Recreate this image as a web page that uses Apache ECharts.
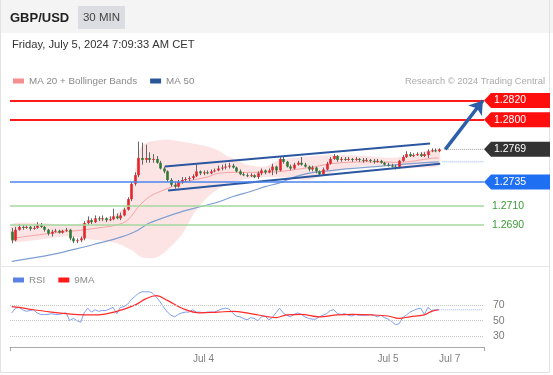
<!DOCTYPE html>
<html><head><meta charset="utf-8">
<script src="https://cdn.jsdelivr.net/npm/echarts/dist/echarts.min.js"></script>
<style>html,body{margin:0;padding:0;background:#fff;}#c{width:553px;height:375px;}</style>
</head><body><div id="c"></div>
<script>
const N = 131;
const open = [
1.2683,1.2674,1.2685,1.2688,1.2687,1.2688,1.2686,1.2687,1.2690,1.2688,
1.2685,1.2681,1.2683,1.2684,1.2682,1.2684,1.2685,1.2676,1.2673,1.2674,
1.2676,1.2692,1.2695,1.2693,1.2697,1.2696,1.2697,1.2695,1.2696,1.2699,
1.2697,1.2700,1.2706,1.2717,1.2733,1.2742,1.2760,1.2758,1.2760,1.2758,
1.2759,1.2755,1.2749,1.2746,1.2737,1.2732,1.2730,1.2735,1.2737,1.2738,
1.2739,1.2741,1.2746,1.2744,1.2745,1.2744,1.2746,1.2747,1.2749,1.2750,
1.2751,1.2752,1.2750,1.2746,1.2743,1.2742,1.2741,1.2742,1.2740,1.2744,
1.2747,1.2745,1.2747,1.2751,1.2747,1.2759,1.2756,1.2751,1.2749,1.2753,
1.2755,1.2753,1.2751,1.2748,1.2750,1.2746,1.2743,1.2748,1.2754,1.2759,
1.2762,1.2758,1.2759,1.2758,1.2759,1.2758,1.2759,1.2758,1.2757,1.2758,
1.2757,1.2756,1.2757,1.2755,1.2753,1.2752,1.2751,1.2750,1.2757,1.2761,
1.2764,1.2762,1.2763,1.2764,1.2762,1.2763,1.2767,1.2768,1.2767];
const high = [
1.2687,1.2688,1.2691,1.2690,1.2690,1.2689,1.2689,1.2693,1.2692,1.2689,
1.2686,1.2685,1.2686,1.2685,1.2685,1.2687,1.2686,1.2678,1.2676,1.2678,
1.2694,1.2699,1.2697,1.2700,1.2699,1.2700,1.2698,1.2699,1.2707,1.2702,
1.2703,1.2708,1.2719,1.2735,1.2745,1.2777,1.2776,1.2774,1.2766,1.2764,
1.2762,1.2757,1.2751,1.2747,1.2739,1.2735,1.2737,1.2740,1.2740,1.2741,
1.2743,1.2753,1.2747,1.2747,1.2747,1.2748,1.2749,1.2752,1.2753,1.2754,
1.2755,1.2754,1.2751,1.2748,1.2745,1.2744,1.2744,1.2743,1.2746,1.2749,
1.2748,1.2749,1.2754,1.2752,1.2762,1.2761,1.2757,1.2753,1.2755,1.2757,
1.2761,1.2755,1.2752,1.2752,1.2751,1.2747,1.2750,1.2756,1.2761,1.2764,
1.2763,1.2761,1.2761,1.2761,1.2760,1.2761,1.2760,1.2760,1.2760,1.2759,
1.2759,1.2759,1.2758,1.2756,1.2755,1.2754,1.2753,1.2758,1.2763,1.2767,
1.2766,1.2765,1.2766,1.2766,1.2766,1.2769,1.2770,1.2770,1.2770];
const low = [
1.2671,1.2673,1.2684,1.2685,1.2686,1.2684,1.2685,1.2686,1.2687,1.2683,
1.2679,1.2678,1.2682,1.2681,1.2681,1.2683,1.2674,1.2671,1.2671,1.2672,
1.2674,1.2690,1.2691,1.2692,1.2694,1.2694,1.2693,1.2694,1.2695,1.2696,
1.2695,1.2699,1.2705,1.2715,1.2731,1.2740,1.2753,1.2755,1.2755,1.2755,
1.2754,1.2748,1.2744,1.2735,1.2730,1.2728,1.2729,1.2733,1.2735,1.2736,
1.2737,1.2740,1.2742,1.2742,1.2743,1.2743,1.2745,1.2746,1.2747,1.2748,
1.2749,1.2749,1.2745,1.2742,1.2741,1.2740,1.2740,1.2739,1.2738,1.2742,
1.2743,1.2744,1.2742,1.2743,1.2746,1.2754,1.2750,1.2747,1.2748,1.2752,
1.2752,1.2750,1.2746,1.2746,1.2744,1.2741,1.2742,1.2747,1.2753,1.2758,
1.2756,1.2756,1.2757,1.2757,1.2756,1.2757,1.2756,1.2755,1.2756,1.2755,
1.2754,1.2755,1.2754,1.2752,1.2751,1.2750,1.2748,1.2749,1.2756,1.2760,
1.2761,1.2761,1.2762,1.2761,1.2761,1.2760,1.2766,1.2766,1.2766];
const close = [
1.2674,1.2685,1.2688,1.2687,1.2688,1.2686,1.2687,1.2690,1.2688,1.2685,
1.2681,1.2683,1.2684,1.2682,1.2684,1.2685,1.2676,1.2673,1.2674,1.2676,
1.2692,1.2695,1.2693,1.2697,1.2696,1.2697,1.2695,1.2696,1.2699,1.2697,
1.2700,1.2706,1.2717,1.2733,1.2742,1.2760,1.2758,1.2760,1.2758,1.2759,
1.2755,1.2749,1.2746,1.2737,1.2732,1.2730,1.2735,1.2737,1.2738,1.2739,
1.2741,1.2746,1.2744,1.2745,1.2744,1.2746,1.2747,1.2749,1.2750,1.2751,
1.2752,1.2750,1.2746,1.2743,1.2742,1.2741,1.2742,1.2740,1.2744,1.2747,
1.2745,1.2747,1.2751,1.2747,1.2759,1.2756,1.2751,1.2749,1.2753,1.2755,
1.2753,1.2751,1.2748,1.2750,1.2746,1.2743,1.2748,1.2754,1.2759,1.2762,
1.2758,1.2759,1.2758,1.2759,1.2758,1.2759,1.2758,1.2757,1.2758,1.2757,
1.2756,1.2757,1.2755,1.2753,1.2752,1.2751,1.2750,1.2757,1.2761,1.2764,
1.2762,1.2763,1.2764,1.2762,1.2764,1.2767,1.2768,1.2767,1.2769];

const ma20Idx = [0,9,20,24,29,32,35,38,41,43,46,50,54,57,63,70,84,88,98,107,116,118];
const ma20Val = [1.2676,1.26805,1.2685,1.2687,1.2690,1.2695,1.2709,1.27195,1.2725,1.2728,1.2733,1.2737,1.2740,1.2744,1.2745,1.2745,1.2751,1.2754,1.2756,1.27555,1.27596,1.2760];
const bbUpIdx = [0,8,15,20,24,29,32,33,34,35,36,38,43,50,54,57,59,62,65,70,74,80,89,98,105,110,114,118];
const bbUpVal = [1.2691,1.2692,1.2690,1.2692,1.2695,1.2702,1.2713,1.2726,1.2745,1.2765,1.2773,1.2777,1.2779,1.2775,1.2772,1.2768,1.2763,1.2758,1.2753,1.2751,1.2758,1.2761,1.2763,1.2762,1.2760,1.2763,1.2767,1.2769];
const bbLoIdx = [0,6,10,15,20,24,29,33,36,40,43,47,50,53,56,60,65,70,75,82,89,94,104,109,113,118];
const bbLoVal = [1.2673,1.2674,1.2676,1.2678,1.2676,1.2674,1.2671,1.2664,1.2656,1.2656,1.2664,1.2680,1.2700,1.2715,1.2725,1.2733,1.2738,1.2740,1.2740,1.2737,1.2745,1.2750,1.2752,1.2749,1.2750,1.2752];
const ma50Idx = [0,11,20,24,29,34,38,43,47,52,57,61,66,70,74,78,82,91,102,110,118];
const ma50Val = [1.2652,1.2659,1.2667,1.2671,1.2676,1.2683,1.2692,1.2699,1.2704,1.2709,1.2714,1.27195,1.2725,1.2730,1.2734,1.2740,1.2744,1.2748,1.27515,1.2754,1.2756];

const rsi = [
60,66,67,64,62,63,64,60,58,58,
58,59,58,58,59,60,50,53,50,48,
60,66,61,64,62,63,63,65,67,59,
67,68,71,77,81,85,87,87,87,85,
80,74,67,61,57,55,58,60,61,61,
64,61,61,60,61,61,61,63,65,66,
65,60,56,55,53,51,54,53,50,55,
56,51,54,60,66,60,57,55,58,60,
58,55,53,52,52,55,57,59,63,64,
59,58,59,57,56,58,57,57,57,58,
57,55,57,54,52,49,45,46,54,57,
61,63,65,66,58,67,63,64,64];
const ma9Idx = [0,2,6,11,15,20,24,29,34,37,40,43,47,52,57,61,66,71,73,76,80,85,90,94,99,104,107,110,114,116,118];
const ma9Val = [68,67,64,61,59,57.5,57.5,62,70,78,82,76,66,60,61,62,59,55,54,57.5,58,55,57.5,58,57.5,56,53,55,57.5,62,64];

const resistLevels = [1.2820, 1.2800];
const lastPrice = 1.2769;
const pivotLevel = 1.2735;
const supportLevels = [1.2710, 1.2690];
const channelUp = [[42.3, 1.2751], [115.6, 1.2775]];
const channelLo = [[43.2, 1.2726], [118.4, 1.2754]];
const arrowPath = [[119.8, 1.2769], [130.2, 1.2820]];
const rsiLevels = [70, 50, 30];
const xLabelIdx = [53, 104, 121];
const xLabelText = ['Jul 4', 'Jul 5', 'Jul 7'];

const FF = '"Liberation Sans", Arial, sans-serif';
const cats = Array.from({length: N}, (_, i) => String(i));
const pairs = (idx, val) => idx.map((x, k) => [x, val[k]]);
const candleData = open.map((o, i) => [i, o, close[i], low[i], high[i]]);
const ma50Last = ma50Val[ma50Val.length - 1];
const rsiLast = rsi[rsi.length - 1];
const lastIdx = open.length - 1;

const tagLevels = [resistLevels[0], resistLevels[1], lastPrice, pivotLevel];
const tagColors = ['#ff0e0e', '#ff0e0e', '#333333', '#1f6ff2'];

const chart = echarts.init(document.getElementById('c'), null, {renderer: 'canvas'});
const option = {
  animation: false,
  backgroundColor: '#ffffff',
  textStyle: {fontFamily: FF},
  grid: [
    {left: 10, right: 69, top: 90, height: 175, outerBoundsMode: 'none', containLabel: false},
    {left: 10, right: 69, top: 283, height: 64, outerBoundsMode: 'none', containLabel: false}
  ],
  legend: [
    {left: 13, top: 76, padding: 0, itemWidth: 11, itemHeight: 5, itemGap: 13, icon: 'rect', selectedMode: false,
     data: ['MA 20 + Bollinger Bands', 'MA 50'], textStyle: {color: '#8a8a8a', fontSize: 9.8, fontFamily: FF}},
    {left: 13, top: 275, padding: 0, itemWidth: 11, itemHeight: 5, itemGap: 13, icon: 'rect', selectedMode: false,
     data: ['RSI', '9MA'], textStyle: {color: '#8a8a8a', fontSize: 9.8, fontFamily: FF}}
  ],
  xAxis: [
    {type: 'value', gridIndex: 0, min: -0.5, max: 130.5, show: false},
    {type: 'category', gridIndex: 1, data: cats, boundaryGap: true,
     axisLine: {show: true, lineStyle: {color: '#a8a8a8', width: 1}},
     axisTick: {show: true, interval: (i) => i === 0, length: 4, lineStyle: {color: '#a8a8a8'}},
     axisLabel: {show: true, interval: (i) => xLabelIdx.indexOf(i) >= 0,
       formatter: (v) => { const k = xLabelIdx.indexOf(Number(v)); return k >= 0 ? xLabelText[k] : ''; },
       color: '#808080', fontSize: 10, margin: 7, fontFamily: FF},
     splitLine: {show: false}}
  ],
  yAxis: [
    {type: 'value', gridIndex: 0, min: 1.26482, max: 1.28310, show: false},
    {type: 'value', gridIndex: 1, min: 16.35, max: 98.25, show: false}
  ],
  graphic: [
    {type: 'rect', silent: true, z: -1, shape: {x: 0, y: 0, width: 553, height: 33}, style: {fill: '#f4f4f4'}},
    {type: 'rect', silent: true, shape: {x: 0.5, y: -1, width: 549, height: 373.5}, style: {fill: 'none', stroke: '#e2e2e2', lineWidth: 1}},
    {type: 'line', silent: true, shape: {x1: 0, y1: 266.5, x2: 549, y2: 266.5}, style: {stroke: '#e6e6e6', lineWidth: 1}},
    {type: 'rect', silent: true, shape: {x: 78, y: 6, width: 47, height: 23}, style: {fill: '#dcdde2'}},
    {type: 'text', silent: true, x: 10, y: 18, style: {text: 'GBP/USD', font: 'bold 13px ' + FF, fill: '#222222', verticalAlign: 'middle'}},
    {type: 'text', silent: true, x: 101.5, y: 18, style: {text: '30 MIN', font: '11.5px ' + FF, fill: '#444444', align: 'center', verticalAlign: 'middle'}},
    {type: 'text', silent: true, x: 12, y: 45, style: {text: 'Friday, July 5, 2024 7:09:33 AM CET', font: '11.2px ' + FF, fill: '#333333', verticalAlign: 'middle'}},
    {type: 'text', silent: true, x: 545, y: 81, style: {text: 'Research \u00a9 2024 Trading Central', font: '9.4px ' + FF, fill: '#aaaaaa', align: 'right', verticalAlign: 'middle'}}
  ],
  series: [
    {type: 'custom', name: 'MA 20 + Bollinger Bands', xAxisIndex: 0, yAxisIndex: 0, z: 1, silent: true,
     itemStyle: {color: '#f58f8f'}, data: pairs(bbUpIdx, bbUpVal), encode: {x: 0, y: 1},
     renderItem: (params, api) => {
       if (params.dataIndex !== 0) return null;
       const pts = [];
       for (let k = 0; k < bbUpIdx.length; k++) pts.push(api.coord([bbUpIdx[k], bbUpVal[k]]));
       for (let k = bbLoIdx.length - 1; k >= 0; k--) pts.push(api.coord([bbLoIdx[k], bbLoVal[k]]));
       return {type: 'polygon', shape: {points: pts, smooth: 0.25}, style: {fill: '#fde4e4'}};
     }},
    {type: 'line', name: 'MA 20 + Bollinger Bands', xAxisIndex: 0, yAxisIndex: 0, z: 2, silent: true,
     data: pairs(ma20Idx, ma20Val), smooth: 0.35, showSymbol: false, symbol: 'none',
     lineStyle: {color: '#f5a3a3', width: 1}, itemStyle: {color: '#f58f8f'}},
    {type: 'line', name: 'MA 50', xAxisIndex: 0, yAxisIndex: 0, z: 2, silent: true,
     data: pairs(ma50Idx, ma50Val), smooth: 0.35, showSymbol: false, symbol: 'none',
     lineStyle: {color: '#7f9fd2', width: 1.2}, itemStyle: {color: '#2b579a'}},
    {type: 'line', name: 'ma50ext', xAxisIndex: 0, yAxisIndex: 0, z: 2, silent: true,
     data: [[lastIdx + 1, ma50Last], [130.5, ma50Last]], showSymbol: false, symbol: 'none',
     lineStyle: {color: '#8aaee2', width: 1, type: 'dotted'}},
    {type: 'line', name: 'levels', xAxisIndex: 0, yAxisIndex: 0, z: 3, silent: true,
     data: [[lastIdx + 1.5, lastPrice], [130.5, lastPrice]], showSymbol: false, symbol: 'none',
     lineStyle: {color: '#9a9a9a', width: 1, type: 'dotted'},
     markLine: {silent: true, symbol: ['none', 'none'], animation: false, precision: 4,
       data: [
         ...resistLevels.map(v => ({yAxis: v, lineStyle: {color: '#ff1a1a', width: 2, type: 'solid'}, label: {show: false}})),
         {yAxis: pivotLevel, lineStyle: {color: '#4a84ee', width: 1.5, type: 'solid'}, label: {show: false}},
         ...supportLevels.map(v => ({yAxis: v, lineStyle: {color: '#a3d99e', width: 1.5, type: 'solid'},
           label: {show: true, position: 'end', distance: 8, formatter: v.toFixed(4), color: '#3b9b35', fontSize: 10.5, fontFamily: FF}}))
       ]},
     markPoint: {silent: true, symbol: 'path://M0,7L7,0L66,0L66,14L7,14Z', symbolSize: [66, 15], symbolKeepAspect: false,
       data: tagLevels.map((v, k) => ({coord: [130.5, v], symbolOffset: [33, 0], itemStyle: {color: tagColors[k]},
         label: {show: true, position: 'inside', formatter: v.toFixed(4), color: '#ffffff', fontSize: 10.5, fontFamily: FF, offset: [-7, 0]}}))}
    },
    {type: 'line', name: 'chanUp', xAxisIndex: 0, yAxisIndex: 0, z: 4, silent: true,
     data: channelUp, showSymbol: false, symbol: 'none', lineStyle: {color: '#2b56a0', width: 2},
     markLine: {silent: true, animation: false, symbol: ['none', 'arrow'], symbolSize: 13, precision: 4,
       lineStyle: {color: '#2d5ea9', width: 3.5, type: 'solid'}, label: {show: false},
       data: [[{coord: arrowPath[0]}, {coord: arrowPath[1]}]]}},
    {type: 'line', name: 'chanLo', xAxisIndex: 0, yAxisIndex: 0, z: 4, silent: true,
     data: channelLo, showSymbol: false, symbol: 'none', lineStyle: {color: '#2b56a0', width: 2}},
    {type: 'custom', name: 'candles', xAxisIndex: 0, yAxisIndex: 0, z: 3, silent: true,
     data: candleData, encode: {x: 0, y: [1, 2, 3, 4]},
     renderItem: (params, api) => {
       const x = api.value(0), o = api.value(1), c = api.value(2), l = api.value(3), h = api.value(4);
       const po = api.coord([x, o]), pc = api.coord([x, c]), pl = api.coord([x, l]), ph = api.coord([x, h]);
       const bw = api.size([1, 0])[0] * 0.72;
       const xc = Math.round(po[0]) + 0.5;
       const top = Math.min(po[1], pc[1]);
       const hh = Math.max(Math.abs(po[1] - pc[1]), 1);
       return {type: 'group', children: [
         {type: 'line', shape: {x1: xc, y1: ph[1], x2: xc, y2: pl[1]}, style: {stroke: '#666666', lineWidth: 1}},
         {type: 'rect', shape: {x: xc - bw / 2, y: top, width: bw, height: hh}, style: {fill: c >= o ? '#e3262b' : '#2e7a34'}}
       ]};
     }},
    {type: 'line', name: 'RSI', xAxisIndex: 1, yAxisIndex: 1, z: 3, silent: true,
     data: rsi, showSymbol: false, symbol: 'none', lineStyle: {color: '#7e9ff0', width: 1}, itemStyle: {color: '#5b80e6'},
     markLine: {silent: true, symbol: ['none', 'none'], animation: false,
       data: rsiLevels.map(v => ({yAxis: v, lineStyle: {color: '#c6c6c6', width: 1, type: 'dotted'},
         label: {show: true, position: 'end', distance: 9, formatter: String(v), color: '#7a7a7a', fontSize: 10.5, fontFamily: FF}}))}},
    {type: 'line', name: '9MA', xAxisIndex: 1, yAxisIndex: 1, z: 4, silent: true,
     data: pairs(ma9Idx, ma9Val), smooth: 0.4, showSymbol: false, symbol: 'none',
     lineStyle: {color: '#ff2a2a', width: 1.2}, itemStyle: {color: '#ff1a1a'}},
    {type: 'line', name: 'rsiext', xAxisIndex: 1, yAxisIndex: 1, z: 3, silent: true,
     data: [[lastIdx, rsiLast], [N - 1, rsiLast]], showSymbol: false, symbol: 'none',
     lineStyle: {color: '#9db6f2', width: 1, type: 'dotted'}}
  ]
};
chart.setOption(option);
</script></body></html>
